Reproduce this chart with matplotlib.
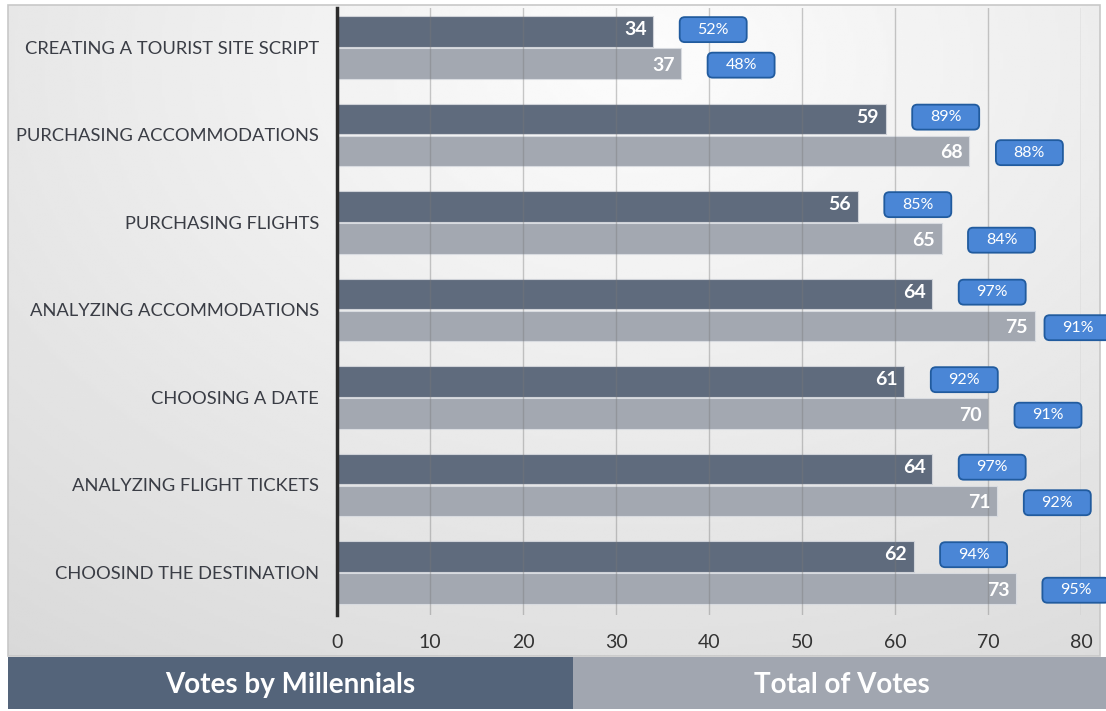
import numpy as np
import matplotlib
matplotlib.use("Agg")
import matplotlib.pyplot as plt
from matplotlib.patches import Rectangle, FancyBboxPatch

plt.rcParams["font.family"] = ["Lato", "DejaVu Sans"]

# Survey data, top to bottom
categories = [
    "CREATING A TOURIST SITE SCRIPT",
    "PURCHASING ACCOMMODATIONS",
    "PURCHASING FLIGHTS",
    "ANALYZING ACCOMMODATIONS",
    "CHOOSING A DATE",
    "ANALYZING FLIGHT TICKETS",
    "CHOOSIND THE DESTINATION",
]
millennial_votes = [34, 59, 56, 64, 61, 64, 62]
total_votes = [37, 68, 65, 75, 70, 71, 73]
millennial_pct = [52, 89, 85, 97, 92, 97, 94]
total_pct = [48, 88, 84, 91, 91, 92, 95]
x_ticks = [0, 10, 20, 30, 40, 50, 60, 70, 80]

W, H = 1106, 711
DARK = "#5f6b7d"
LIGHT = "#a3a8b1"
BOX = "#4a86d6"
BOX_EDGE = "#215b9e"

fig = plt.figure(figsize=(W / 100, H / 100), dpi=100)
fig.patch.set_facecolor("white")

# background layer in pixel coordinates
bg = fig.add_axes([0, 0, 1, 1])
bg.set_xlim(0, W)
bg.set_ylim(H, 0)
bg.set_axis_off()

x0, x1, y0, y1 = 8, 1100, 5, 656
xx, yy = np.meshgrid(np.linspace(x0, x1, 400), np.linspace(y0, y1, 250))
d = np.sqrt(((xx - 640) / 900) ** 2 + ((yy - 60) / 640) ** 2)
shade = np.clip(0.99 - 0.12 * d, 0.85, 0.985)
bg.imshow(shade, cmap="gray", vmin=0, vmax=1, extent=(x0, x1, y1, y0),
          aspect="auto", zorder=0)
bg.add_patch(Rectangle((x0, y0), x1 - x0, y1 - y0, fill=False,
                       edgecolor="#c8c8c8", linewidth=1.2, zorder=1))

# legend strip at the bottom
bg.add_patch(Rectangle((8, 657), 565, 52, facecolor="#54647a",
                       edgecolor="none", zorder=1))
bg.add_patch(Rectangle((573, 657), W - 573, 52, facecolor="#a1a6b0",
                       edgecolor="none", zorder=1))
bg.text(290, 685, "Votes by Millennials", color="white", fontsize=20,
        fontweight="bold", ha="center", va="center")
bg.text(842, 685, "Total of Votes", color="white", fontsize=20,
        fontweight="bold", ha="center", va="center")

# main bar axes
left, right, top, bottom = 337, 1081, 8, 615
ax = fig.add_axes([left / W, (H - bottom) / H, (right - left) / W,
                   (bottom - top) / H])
ax.patch.set_alpha(0)

n = len(categories)
pos = np.arange(n)
off = 0.183
bh = 0.35
ax.barh(pos - off, millennial_votes, height=bh, color=DARK,
        edgecolor="#cfd2d8", linewidth=0.8, zorder=2)
ax.barh(pos + off, total_votes, height=bh, color=LIGHT,
        edgecolor="#d8dbe0", linewidth=0.8, zorder=2)

ax.set_xlim(0, 80)
ax.set_ylim(n - 1 + 0.486, -0.45)
ax.set_xticks(x_ticks)
ax.set_yticks(pos)
ax.set_yticklabels(categories, fontsize=13.2, color="#3a3d45")
ax.tick_params(axis="y", length=0, pad=13)
ax.tick_params(axis="x", length=0, pad=14, labelsize=14, labelcolor="#333333")
ax.grid(axis="x", color="#7a7a7a", linewidth=1, alpha=0.4, zorder=3)
ax.set_axisbelow(False)
for s in ["top", "right", "bottom"]:
    ax.spines[s].set_visible(False)
ax.spines["left"].set_color("#2b2b2b")
ax.spines["left"].set_linewidth(2.5)
ax.spines["left"].set_zorder(4)

px_x = 80 / (right - left)
px_y = (n - 1 + 0.486 + 0.45) / (bottom - top)
box_w = 67 * px_x
box_h = 25 * px_y
aspect = px_y / px_x
box_max = 80 - 3 * px_x


def label_pair(y, value, pct):
    ax.text(value - 0.7, y, str(value), color="white", fontsize=14,
            fontweight="bold", ha="right", va="center", zorder=5)
    cx = min(value + 60 * px_x, box_max)
    ax.add_patch(FancyBboxPatch((cx - box_w / 2, y - box_h / 2), box_w, box_h,
                                boxstyle="round,pad=0,rounding_size=0.55",
                                mutation_aspect=aspect, facecolor=BOX,
                                edgecolor=BOX_EDGE, linewidth=1.3,
                                clip_on=False, zorder=5))
    ax.text(cx, y, f"{pct}%", color="white", fontsize=11.5, ha="center",
            va="center", clip_on=False, zorder=6)


for i in range(n):
    label_pair(pos[i] - off - 0.02, millennial_votes[i], millennial_pct[i])
    label_pair(pos[i] + off + 0.02, total_votes[i], total_pct[i])

fig.savefig("out.png", dpi=100)
